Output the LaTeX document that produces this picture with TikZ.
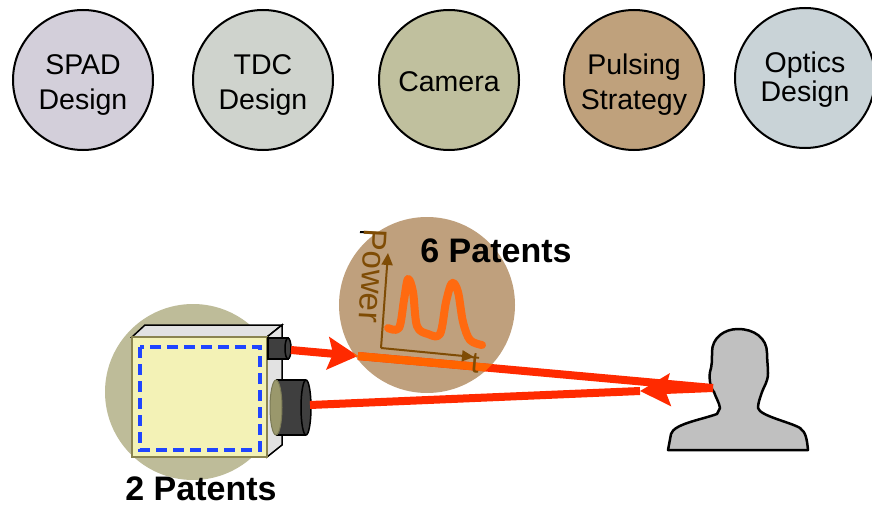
\documentclass[tikz,border=0pt]{standalone}
\usepackage{fontspec}
\setmainfont{Liberation Sans}
\usetikzlibrary{arrows.meta}

\definecolor{spadgray}{HTML}{D3CFDA}
\definecolor{tdcgray}{HTML}{CFD3CD}
\definecolor{camolive}{HTML}{C0C09E}
\definecolor{pulsebrown}{HTML}{BFA17C}
\definecolor{opticsgray}{HTML}{C9D3D7}
\definecolor{zoneolive}{HTML}{BEBC99}
\definecolor{zonebrown}{HTML}{BFA07D}
\definecolor{laserred}{HTML}{FF2A00}
\definecolor{laserorange}{HTML}{FF6400}
\definecolor{pulseorange}{HTML}{FF6A10}
\definecolor{axisbrown}{HTML}{7F4C05}
\definecolor{boxyellow}{HTML}{F3F2B6}
\definecolor{boxedge}{HTML}{8A8450}
\definecolor{sidegray}{HTML}{E2E2E2}
\definecolor{lensgray}{HTML}{3F3F3F}
\definecolor{lenstint}{HTML}{9A986C}
\definecolor{dashblue}{HTML}{1F45FF}
\definecolor{persongray}{HTML}{C0C0C0}

\begin{document}
\begin{tikzpicture}[x=1pt, y=-1pt,
  topic/.style={circle, draw=black, line width=2pt, minimum size=140pt, inner sep=0pt},
  topictext/.style={align=center, font=\fontsize{28.5}{35}\selectfont},
  patents/.style={font=\fontsize{34}{38}\selectfont\bfseries},
  zone/.style={circle, minimum size=176pt, inner sep=0pt},
  beam/.style={draw=laserred, line width=8pt},
  beamtip/.style={-{Stealth[length=30pt, width=32pt, inset=5pt]}},
  axis/.style={draw=axisbrown, line width=2pt, -{Triangle[length=12pt, width=11pt]}},
  lens/.style={fill=lensgray, draw=black, line width=1.5pt}]
  \useasboundingbox (0,0) rectangle (872,508);

  % research areas
  \node[topic, fill=spadgray] (spad) at (83,80) {};
  \node[topic, fill=tdcgray] (tdc) at (263,80) {};
  \node[topic, fill=camolive] (camera) at (449,80) {};
  \node[topic, fill=pulsebrown] (pulsing) at (634,80) {};
  \node[topic, fill=opticsgray] (optics) at (805,78) {};
  \node[topictext] (spadtxt) at ([yshift=-5pt]spad.center) {SPAD\\Design};
  \node[topictext] (tdctxt) at ([yshift=-5pt]tdc.center) {TDC\\Design};
  \node[topictext] (cameratxt) at ([yshift=-2pt]camera.center) {Camera};
  \node[topictext] (pulsingtxt) at ([yshift=-5pt]pulsing.center) {Pulsing\\Strategy};
  \node[topictext, font=\fontsize{28.5}{29}\selectfont] (opticstxt) at ([yshift=-2pt]optics.center) {Optics\\Design};

  % camera
  \node[zone, fill=zoneolive] (camzone) at (193,392) {};
  \draw[fill=sidegray, line width=1.5pt] (132,337) -- (145,325) -- (282,325) -- (267,337) -- cycle;
  \draw[fill=sidegray, line width=1.5pt] (267,337) -- (282,325) -- (282,445) -- (267,457) -- cycle;
  \draw[fill=boxyellow, draw=boxedge, line width=2pt] (132,337) rectangle (267,457);
  \draw[dashblue, line width=4.5pt, dash pattern=on 11pt off 6pt] (140,347) rectangle (260,450);
  \draw[lens] (268,338) rectangle (288,359);
  \draw[lens] (288,348.5) ellipse (3 and 10.5);
  \fill[lensgray] (276,380) rectangle (306,435);
  \draw[line width=1.5pt] (276,380) -- (306,380) (276,435) -- (306,435);
  \draw[lens] (306,407.5) ellipse (5 and 27.5);
  \draw[fill=lenstint, draw=lenstint!80!black, line width=1pt] (276,407.5) ellipse (6 and 27.5);
  \coordinate (smalllens) at (291,350);
  \coordinate (biglens) at (310,405);

  % pulsing
  \node[zone, fill=zonebrown] (pulsezone) at (427,305) {};

  % person
  \draw[fill=persongray, line width=2.5pt, line join=round]
    (668,450) -- (671,434) .. controls (674,424) and (700,420) .. (717,414)
    -- (720,408) .. controls (719,402) and (716,398) .. (714,392)
    .. controls (710,388) and (709,378) .. (710,372)
    .. controls (712,366) and (712,360) .. (712,352)
    .. controls (712,338) and (724,329) .. (738,329)
    .. controls (754,329) and (767,338) .. (767,353)
    .. controls (767,360) and (768,366) .. (768,373)
    .. controls (768,382) and (764,386) .. (762,392)
    .. controls (760,398) and (758,403) .. (758,408)
    .. controls (760,416) and (790,422) .. (800,428)
    .. controls (806,432) and (807,440) .. (808,450) -- cycle;
  \coordinate (face) at (713,388);

  % laser beams
  \coordinate (outtip) at (358,356);
  \coordinate (rettip) at (640,391);
  \draw[beam, beamtip, fill=laserred] (smalllens) -- (outtip);
  \draw[beam] (outtip) -- (face);
  \draw[beam, beamtip, fill=laserred] (face) -- (rettip);
  \draw[beam] (rettip) -- (biglens);
  \begin{scope}
    \clip (pulsezone.center) circle (88);
    \draw[beam, beamtip, draw=laserorange, fill=laserorange] (smalllens) -- (outtip);
    \draw[beam, draw=laserorange] (outtip) -- (face);
  \end{scope}

  % power vs time
  \coordinate (origin) at (381,348);
  \coordinate (ptop) at (388,253);
  \coordinate (tend) at (474,357);
  \draw[black, line width=2pt] (360,232) -- (376,233);
  \draw[axis] (origin) -- (ptop);
  \draw[axis] (origin) -- (tend);
  \draw[pulseorange, line width=8pt, line cap=round, line join=round]
    plot[smooth, tension=0.55] coordinates {(388,328) (399,328) (404,300) (408,279) (413,292)
      (417,326) (428,334) (440,334) (446,302) (452,283) (458,292) (463,322) (470,340) (482,345)};
  \node[rotate=-93, text=axisbrown, font=\fontsize{33}{36}\selectfont] (powerlbl) at (373,276) {Power};
  \node[rotate=-5, text=axisbrown, font=\fontsize{30}{32}\selectfont] (tlbl) at (475,363) {t};

  \node[patents] (pulsepat) at (496,251) {6 Patents};
  \node[patents] (campat) at (201,489) {2 Patents};
\end{tikzpicture}
\end{document}
